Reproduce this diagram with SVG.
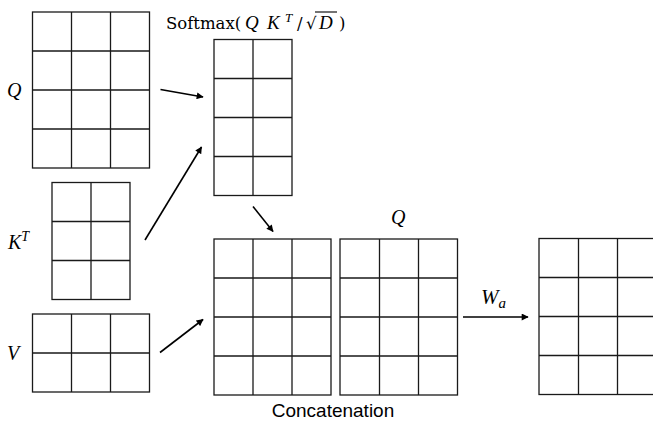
<svg xmlns="http://www.w3.org/2000/svg" width="653" height="421" viewBox="0 0 653 421">
<style>
.g{fill:none;stroke:#1a1a1a;stroke-width:1.3}
.c{stroke:#000;stroke-width:1.6;fill:none}
.m{font-family:"Liberation Serif",serif;font-style:italic;fill:#000}
.s{font-family:"DejaVu Serif",serif;fill:#000}
.a{font-family:"Liberation Sans",Arial,sans-serif;fill:#000}
</style>
<defs>
<marker id="ah" viewBox="0 0 10 10" refX="9" refY="5" markerWidth="8" markerHeight="7" orient="auto" markerUnits="userSpaceOnUse">
<path d="M0,0 L10,5 L0,10 z" fill="#000"/>
</marker>
</defs>
<rect width="653" height="421" fill="#fff"/>

<g id="Q">
<rect class="g" x="32.5" y="12" width="117" height="156"/>
<path class="g" d="M71.5,12V168M110.5,12V168M32.5,51H149.5M32.5,90H149.5M32.5,129H149.5"/>
<text class="m" x="7" y="97" font-size="20">Q</text>
</g>

<g id="KT">
<rect class="g" x="52" y="182.5" width="78" height="117"/>
<path class="g" d="M91,182.5V299.5M52,221.5H130M52,260.5H130"/>
<text class="m" x="8" y="249" font-size="20">K<tspan font-size="14" dy="-8">T</tspan></text>
</g>

<g id="V">
<rect class="g" x="32.5" y="314" width="117" height="78"/>
<path class="g" d="M71.5,314V392M110.5,314V392M32.5,353H149.5"/>
<text class="m" x="7" y="360" font-size="20">V</text>
</g>

<g id="Softmax">
<rect class="g" x="214" y="39.5" width="78" height="156"/>
<path class="g" d="M253,39.5V195.5M214,78.5H292M214,117.5H292M214,156.5H292"/>
<text class="s" x="166" y="28.5" font-size="16.5">Softmax(<tspan class="m" font-size="19" x="245">Q</tspan><tspan class="m" font-size="19" x="267">K</tspan><tspan class="m" font-size="13" x="285" dy="-7">T</tspan><tspan x="297" dy="7">/</tspan><tspan x="306">√</tspan><tspan class="m" font-size="19" x="319">D</tspan><tspan x="339">)</tspan></text>
<line x1="315" y1="12" x2="337" y2="12" stroke="#000" stroke-width="1.1"/>
</g>

<g id="ConcatA">
<rect class="g" x="214" y="239" width="117" height="156"/>
<path class="g" d="M253,239V395M292,239V395M214,278H331M214,317H331M214,356H331"/>
</g>

<g id="ConcatB">
<rect class="g" x="340" y="239" width="117.5" height="156"/>
<path class="g" d="M379.5,239V395M418.5,239V395M340,278H457.5M340,317H457.5M340,356H457.5"/>
<text class="m" x="391" y="224" font-size="20">Q</text>
</g>

<text id="ConcatLabel" class="a" x="333" y="417" font-size="19" text-anchor="middle">Concatenation</text>

<g id="Out">
<rect class="g" x="539" y="238.5" width="120" height="156"/>
<path class="g" d="M578.5,238.5V394.5M617.5,238.5V394.5M539,277.5H660M539,316.5H660M539,355.5H660"/>
</g>

<g id="connectors">
<line class="c" x1="160.5" y1="89.5" x2="203" y2="97" marker-end="url(#ah)"/>
<line class="c" x1="145" y1="240" x2="201.5" y2="147" marker-end="url(#ah)"/>
<line class="c" x1="253" y1="206.5" x2="273" y2="231.5" marker-end="url(#ah)"/>
<line class="c" x1="160" y1="352.5" x2="203" y2="319.5" marker-end="url(#ah)"/>
<line class="c" x1="463" y1="317" x2="528" y2="317" marker-end="url(#ah)"/>
<text class="m" x="481" y="304" font-size="21">W<tspan font-size="15" dy="4">a</tspan></text>
</g>
</svg>
